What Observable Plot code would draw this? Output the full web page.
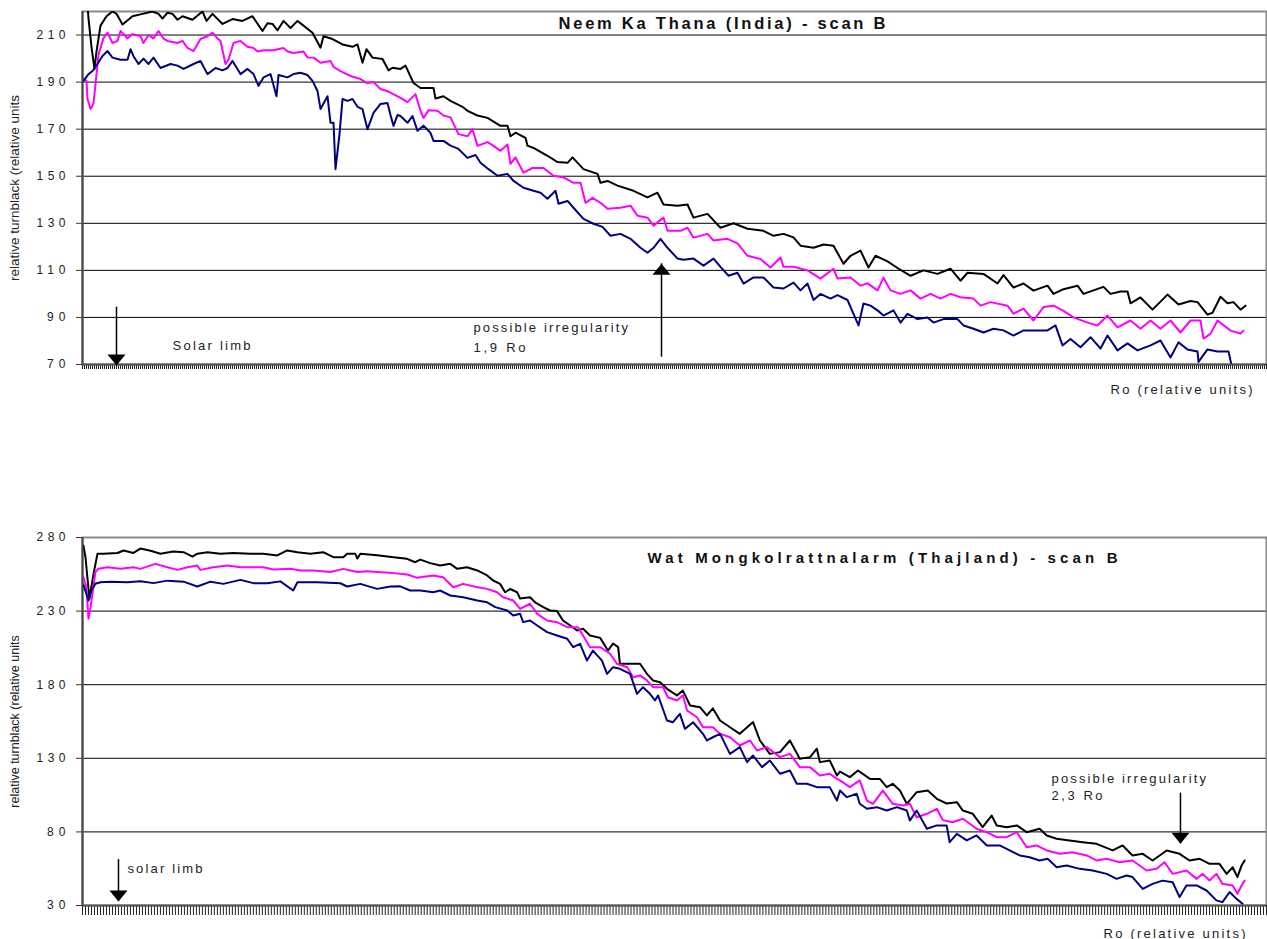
<!DOCTYPE html>
<html><head><meta charset="utf-8">
<script src="https://cdn.jsdelivr.net/npm/d3@7"></script>
<script src="https://cdn.jsdelivr.net/npm/@observablehq/plot@0.6"></script>
<style>
body{margin:0;background:#fff;}
#wrap{position:relative;width:1267px;height:939px;overflow:hidden;background:#fff;}
#top,#bottom{position:absolute;left:0;}
#top{top:0;}
#bottom{top:520px;}
</style></head>
<body><div id="wrap"><div id="top"></div><div id="bottom"></div></div>
<script>
// ---------- DATA: top panel (Neem Ka Thana) — [sample index, relative turnblack] ----------
const topTitle = "Neem Ka Thana (India) - scan B";
const topYTicks = [70, 90, 110, 130, 150, 170, 190, 210];
const topYDomain = [70, 220];
const topSamples = 592;
const topBlack = [[1,240],[3,217],[4.5,205],[6,195.5],[7,203],[9,214],[12,218],[15,220],[17,219],[20,214.5],[25,218],[30,219],[35,220],[38,219],[40,217],[42.5,219.5],[45,219],[47.5,216.5],[50,218],[55,216.5],[60,220],[62,216],[65,219],[70,214.7],[75,216.8],[80,216],[85,218],[90,211.7],[92.5,215],[95,214.7],[97.5,212],[100.5,216],[104,213],[107.5,216],[110.5,214],[115,211],[119,204.6],[120.5,209.5],[125,208.3],[130,206],[135,205],[137.5,206],[140,198.2],[142,204],[145,200.4],[150,199.8],[153,195],[155,196.1],[159,195.6],[161.5,197],[165.5,189.6],[169,187.5],[172.5,187.5],[175.5,187.5],[176.5,183],[180.5,184],[184,182],[190,179.5],[192.5,177.8],[197.5,175.8],[202.5,174.8],[209,171.4],[212.5,171.4],[214,167],[216.5,168.5],[221.5,166.3],[222.5,163],[225.5,162],[232.5,158.7],[237.5,156],[242.5,155.7],[245,158],[250.5,153],[257.5,151],[259,147.2],[262.5,148],[267.5,146],[275.5,143.8],[282.5,141],[287.5,143],[290.5,138],[297.5,137.5],[302.5,138],[305.5,132.4],[312.5,134],[319,128.1],[325.5,130],[332.5,127.7],[340.5,126.8],[345.5,124.7],[350.5,125.5],[355.5,124],[359,120.5],[365.5,119.6],[370.5,121],[375.5,120.5],[380.5,112.8],[384,116.2],[389,118.4],[393,111.2],[396.5,116.2],[402.5,113.8],[407.5,111],[414,107.7],[420.5,110],[427.5,108.5],[434,110.7],[439,105.6],[442.5,109],[450.5,108.5],[457.5,104.4],[460.5,108],[465.5,102.7],[470.5,104.4],[475.5,101.4],[482.5,103.5],[485.5,100],[490.5,102],[497.5,103.5],[500.5,100],[510.5,103],[514,100],[519,101],[522.5,101],[524,96],[529,98.5],[535,93.3],[542.5,99.7],[548,95.5],[554,97],[557.5,96.5],[562.5,91.2],[565,92],[569,98.8],[572.5,96],[575.5,96.5],[579,93.3],[581.5,95]];
const topMagenta = [[0.5,191.3],[2,190.5],[2.5,182.8],[4,178.6],[5.5,181],[6.5,189],[8,201.8],[10.5,208.7],[12.5,211],[15,206.6],[17.5,207.5],[19,211.7],[20.5,210.5],[22.5,208.5],[25,210.4],[29,209.5],[30.5,206.6],[33,210],[35.5,208.5],[38,211.7],[40.5,208.5],[42.5,207.5],[47.5,206.6],[50,207.5],[52.5,204.5],[55.5,203.2],[59,208.3],[62.5,209.5],[65,211],[67.5,208.5],[69,207.5],[71.5,197.7],[73,199.5],[75.5,206.6],[79,207.5],[82.5,205],[85.5,204.5],[87.5,203],[90.5,203.5],[95.5,203.5],[100.5,204.5],[102.5,203],[105.5,202.4],[110.5,203],[112.5,200.5],[115.5,200.4],[119,198.2],[124,199],[125.5,196.5],[129,194.7],[134,192.6],[139,191.3],[142.5,189.5],[145.5,190],[149,187.1],[153,186],[159,183.3],[162.5,181.5],[166.5,184.9],[169,177.8],[170.5,174.8],[173,178],[177.5,177.8],[180.5,175.8],[184,175],[188,167.9],[192.5,167],[195,170],[197.5,162.9],[202.5,164.5],[205.5,162.9],[209,160.8],[212.5,163.5],[214,155.3],[216.5,158],[220.5,151.5],[225,153.5],[230.5,153.5],[235.5,150.2],[240.5,149.5],[245.5,147.2],[249,147.2],[251.5,138.7],[255,140.8],[259,138.7],[262.5,136.2],[269,136.6],[274,137.5],[277.5,133.2],[282.5,132.4],[285.5,129],[290.5,132.4],[292.5,126.8],[299,126.8],[302.5,128.1],[305.5,123.9],[312.5,125.5],[315.5,122.7],[322.5,123.4],[327.5,121.5],[332.5,116.2],[339,114.8],[344,111.2],[349,115.5],[350.5,111.5],[355.5,111.5],[362.5,110],[369,106.5],[375.5,110.7],[377.5,106.5],[384,107],[389,103.5],[392.5,104.5],[397.5,101.5],[400.5,106.9],[404,101.5],[409,100],[414,101.5],[419,98],[424,100],[429,98],[434,100],[439,98.6],[445.5,98],[449,95],[454,96.5],[462.5,95],[465.5,91.6],[470.5,93.7],[475.5,88.7],[480.5,94.4],[485.5,95],[490.5,92.8],[495.5,90],[502.5,87.8],[507.5,86.6],[512.5,90.8],[517.5,85.8],[524,88.7],[529,85.2],[534,88.7],[539,85.2],[544,88.7],[549,83.6],[554,88.7],[559,88.7],[560.5,81],[564,83],[567.5,88.7],[574,84.4],[579,83.2],[580.5,84.4]];
const topBlue = [[0.5,190.5],[3,193.4],[5,194.7],[7.5,197.7],[10,201.1],[12.5,203.2],[15,200.4],[19,199.5],[22.5,199.5],[24,204],[25.5,201],[28,197.7],[30.5,200],[33,197.7],[35.5,200.4],[39,196],[44,197.7],[47.5,197],[50.5,195.6],[55.5,197.7],[59,199],[62.5,193.4],[66.5,196],[70,195],[72.5,196],[75,199],[79,193.4],[82.5,195.6],[85.5,193.4],[88,188.4],[90.5,192],[94,193.4],[97,184],[98,193],[102.5,192],[105.5,193.4],[109,194],[112.5,193],[115,190.5],[117.5,186.2],[119,178.6],[122.5,184],[124,172.7],[125.5,172.7],[126.5,153],[128.5,167.9],[130,182.8],[132.5,182],[135,182.8],[137.5,179.5],[140,178.5],[142.5,170],[145.5,176.9],[149,180.7],[152.5,181.1],[154,176],[155.5,171.4],[157.5,176],[159,175.6],[162.5,172.7],[165,175.6],[167.5,169.3],[170.5,171.5],[174,168.4],[175.5,165],[180.5,165],[184,163],[188,161.6],[192.5,157.8],[196.5,159],[199,155.7],[203,153],[207.5,150.2],[212.5,151],[215.5,148],[220.5,145.1],[225.5,143.8],[229,143],[232.5,140.4],[236.5,143.8],[238,138.3],[242.5,139.5],[245.5,136.6],[250.5,131.9],[255.5,129.8],[260,128.5],[264,124.7],[269,125.5],[274,123.4],[279,119.6],[282.5,117.5],[285.5,119.6],[289,123.4],[292.5,119.6],[297.5,115],[300.5,114.5],[305.5,115],[310.5,112],[315.5,115],[319,111.5],[323,107.7],[327.5,109],[330.5,104.4],[335.5,107],[340.5,107],[345.5,102.7],[350.5,102.3],[355.5,104.8],[359,101.5],[362.5,104.4],[365.5,97.4],[369,100],[374,98],[377.5,99.5],[382.5,97.4],[388,86.6],[390.5,95.9],[394,95],[397.5,93],[400.5,90.8],[405.5,93],[409,87.8],[412.5,91.5],[417.5,89.3],[422.5,90],[425.5,87.8],[430.5,89.3],[437.5,89.3],[440.5,86.6],[445.5,85.2],[450.5,83.6],[455.5,85.2],[460.5,84.5],[465.5,82.3],[470.5,84.5],[477.5,84.5],[482.5,84.5],[486.5,86.6],[490,78.1],[494,80.8],[499,77.3],[504,81.6],[509,76.8],[512.5,82.3],[517.5,76],[522.5,79],[527.5,76],[534,78.1],[539,80.2],[544,73],[548,79.4],[552.5,76.4],[557.5,75.5],[558,71.1],[562.5,76.4],[567.5,75.5],[573,75.5],[575.5,66]];
const topNotes = [
  {x: 45, y: 76, text: "Solar limb"},
  {x: 195.5, y: 84, text: "possible irregularity"},
  {x: 195.5, y: 75.5, text: "1,9 Ro"}
];
const topArrows = [
  {x: 17, from: 94.4, to: 69.6, dir: "down"},
  {x: 289.5, from: 73.1, to: 112.8, dir: "up"}
];

// ---------- DATA: bottom panel (Wat Mongkolrattnalarm) ----------
const botTitle = "Wat Mongkolrattnalarm (Thajland) - scan B";
const botYTicks = [30, 80, 130, 180, 230, 280];
const botYDomain = [30, 280];
const botSamples = 395;
const botBlack = [[0.3,274.6],[1,266.6],[2.3,238.5],[3.7,255.5],[5,269],[7,269],[11.7,269.5],[13.7,271.2],[17,269.5],[19.3,272.5],[22.7,271],[26,269],[30.3,270.5],[33.7,270],[36.7,267],[38.3,269],[41.7,270],[46,269],[50.3,269.5],[56,269],[60.3,269],[65,267.8],[68.3,271.2],[71.7,270],[76,269],[80.3,270],[83.7,266.6],[87,266.6],[88.3,269],[91,269],[91.7,265.7],[92.7,269],[98.3,268],[103.7,266.6],[108.3,265.5],[111,263.2],[112.7,265],[116,262.6],[119.3,261],[122.7,262.1],[125,258.7],[128.3,259.8],[131.7,257.6],[135,254.2],[137,250.8],[139.3,248.5],[141,242.8],[142.7,245],[145,242.8],[146,238.5],[149.3,239.4],[151,236],[153.7,232.7],[156,230.4],[158.3,230],[160.3,223.6],[162.7,220.2],[165,216.8],[167,218],[169.3,213.4],[172.7,211.8],[175.3,203.2],[177,208],[178.7,205.5],[179.3,194.2],[182.7,194.2],[186,194.2],[188.3,187.4],[190.3,182.9],[192.7,181.7],[195,177.2],[198.3,172.7],[200.3,176],[202.7,165.9],[206,164.7],[208.3,159.1],[210.3,163.9],[212.7,155.7],[216,151.1],[219.3,146.6],[223.7,154.6],[226,142.1],[229.3,133],[232.7,134.2],[236,142.1],[239.3,129.7],[242.7,130.8],[245,136.5],[246,127.4],[249.3,128.5],[251.7,118.3],[252.7,121],[256,117.2],[258.7,121.7],[262.7,116],[266,116],[268.3,110.4],[270.3,112.7],[272.7,108.1],[275,99.1],[278.3,107],[282,108.1],[285,102.5],[288.3,99.3],[291.7,100.2],[293.7,94.5],[297,92.3],[300.3,83.3],[303.3,91.1],[305,84.4],[308.3,83.2],[311.7,84.4],[315,79.8],[319.3,82.1],[321.7,77.6],[325,75.3],[329.3,74.2],[333.7,73],[338.3,71.9],[343.7,67.4],[347,70.8],[350.3,64],[353.7,65.1],[357,60.6],[361.7,67.4],[366,65.1],[369.3,60.6],[372.7,61.7],[376,58.3],[379.3,58.3],[381.7,51.5],[383.7,56],[385.3,49.3],[386.7,57.2],[387.7,60.6]];
const botMagenta = [[0.3,253],[1.3,246.2],[2,224.8],[2.7,232.7],[4.3,256.4],[5.3,258.8],[8.3,259.8],[12.7,258.7],[17,259.8],[19.3,258.7],[24.3,262.1],[28.3,259.8],[31.7,258],[35,259.8],[38.3,261],[39.3,258],[43.7,259.8],[48.3,261],[52.7,259.8],[60.3,259.8],[63.7,258.3],[69.3,258.7],[72.7,257.6],[77,257.6],[82.7,256.5],[87,258.7],[91.7,256.5],[95,257],[98.3,256.5],[103.7,255.8],[108.3,254.9],[111.7,252.6],[112.7,253],[117,254.2],[120.3,253],[123.7,246.2],[127,248.5],[131.7,246.2],[135,245.1],[138.3,242.8],[140.3,239.4],[143.7,237.2],[146,231.5],[149.3,235],[151.7,228.1],[155,223.6],[158.3,222.5],[161.7,219.1],[165.3,219.1],[167,213.4],[169.3,205.5],[172.7,205.5],[176,201],[178.3,194.2],[181.7,191.9],[183.7,185.1],[186,186.3],[188.3,182.9],[190.3,178.3],[193.7,178.3],[195.3,171.5],[198.3,169.3],[200.3,172.7],[201.7,162.5],[205,157.9],[207,151.1],[210.3,151.1],[212.7,146.6],[216,144.3],[219.3,138.7],[222.7,142.1],[225,135.3],[228.3,137.6],[232.7,130.8],[236,133],[239.3,124],[242.7,124],[246,118.3],[249.3,119.5],[251.7,116],[252.7,115],[256,110.4],[259.3,115],[261.7,101.3],[263.7,99.1],[267,108.1],[270.3,99.1],[273.7,98],[276,99.1],[278.3,90],[281.7,92.3],[285,95.7],[287,88],[290.3,86.6],[293.7,88.9],[298.3,82.1],[301.7,79.8],[305,76.4],[308.3,76.4],[311.7,79.8],[315,69.6],[318.3,70.8],[321.7,67.4],[326,65.1],[330.3,66.2],[335,64],[338.3,60.6],[341.7,61.7],[346,59.4],[350.3,60.6],[355,53.8],[358.3,54.9],[361,59.4],[363.7,51.5],[368.3,53.8],[371.7,48.1],[373.7,51.5],[376,47],[378.3,51.5],[380.3,44.7],[383.7,43.6],[385.3,38],[386.7,43.6],[387.7,46.9]];
const botBlue = [[0.3,248],[2,237.2],[3,244],[4.3,248.6],[6,249.6],[9.3,250],[15,249.6],[19.3,250.3],[23.7,249],[28.3,250.7],[33.7,250],[38.3,246.7],[42.7,250],[47,248.5],[52.7,251.2],[57,249],[61.7,248.9],[66,250.2],[70.3,244],[71.7,249.6],[78.3,249.6],[86,248.9],[88.3,246.7],[92.7,248.5],[98.3,245.1],[102.7,246.7],[106,246.8],[109.3,244],[112.7,244],[117,242.8],[119.3,244],[122.7,240.6],[127,239.4],[131.7,237.2],[135,236],[137.7,232.7],[141.7,230.4],[143.7,227],[146,228.2],[147,222.5],[149.3,223.6],[151.7,220.2],[155,215.7],[158.3,213.4],[161.7,211.2],[163.7,205.5],[166,207.8],[168.3,196.4],[170.3,203.2],[173.3,196.4],[175,187.4],[177,191.9],[179.3,190.8],[182.7,187.4],[185,173.8],[187,178.3],[189.3,173.8],[191,169.3],[192,172.7],[195,155.7],[197,154.5],[199.3,160.2],[201,150],[203.7,154.5],[207,146.6],[208.3,142.1],[210.3,144.3],[212.7,146.6],[216,133],[219.3,137.6],[221.7,127.4],[223.7,131.9],[226.7,124],[229.3,128.5],[232.7,119.5],[236,121.7],[238.3,112.7],[241.7,112.7],[245,110.4],[249.3,110.4],[251.7,101.3],[252.7,108.1],[255,103.6],[258.3,105.9],[259.3,99.1],[261.7,95.7],[265,96.8],[268.3,94.5],[271.7,96.8],[275,94.5],[276,87.7],[278.3,94.5],[281.7,82.1],[285,84.4],[288.3,84.4],[289.3,73],[291.7,78.7],[295,74.2],[298.3,77.6],[301.7,70.8],[306,70.8],[309.3,67.4],[312.7,64],[316,62.8],[319.3,60.6],[322,61.7],[325,56],[328.3,57.2],[332.7,54.9],[337,53.8],[341.7,51.5],[345,48.1],[348.3,50.4],[350.3,49.3],[353.7,41.3],[357,44.7],[360.3,46.9],[363.7,45.8],[366,35.7],[368.3,43.6],[371.7,43.6],[375,40.2],[378.3,33.5],[380.3,32.3],[382.7,39.2],[385,34.5],[387,31.2]];
const botNotes = [
  {x: 15, y: 52.4, text: "solar limb"},
  {x: 323.3, y: 113.1, text: "possible irregularity"},
  {x: 323.3, y: 101.8, text: "2,3 Ro"}
];
const botArrows = [
  {x: 12, from: 61.2, to: 32.7, dir: "down"},
  {x: 366.3, from: 106.3, to: 71.9, dir: "down"}
];

const yLabel = "relative turnblack (relative units";
const xLabel = "Ro (relative units)";
const seriesColors = ["#000000", "#ff00ff", "#000080"];

// ---------- drawing ----------
const FONT = "'Liberation Sans', Arial, Helvetica, sans-serif";
// widths (px) used to stretch the letter-spaced texts as in the original
const textFit = new Map([
  [topTitle, 327], [botTitle, 470],
  ["Solar limb", 78], ["solar limb", 75],
  ["possible irregularity", 154.5], ["1,9 Ro", 52], ["2,3 Ro", 51],
  [xLabel, 142]
]);
const triDown = {draw(c){ c.moveTo(-9,-11); c.lineTo(9,-11); c.lineTo(0,0); c.closePath(); }};
const triUp = {draw(c){ c.moveTo(-9,11); c.lineTo(9,11); c.lineTo(0,0); c.closePath(); }};

function panel(cfg) {
  const series = [cfg.black, cfg.magenta, cfg.blue];
  const svg = Plot.plot({
    width: 1267, height: cfg.height,
    marginLeft: 82, marginRight: 1, marginTop: cfg.marginTop, marginBottom: cfg.marginBottom,
    x: {domain: [0, cfg.samples], axis: null},
    y: {domain: cfg.yDomain, axis: null},
    style: {fontFamily: FONT, background: "#fff", color: "#222", overflow: "visible"},
    marks: [
      Plot.gridY(cfg.yTicks, {stroke: "#000", strokeOpacity: 1, strokeWidth: 1}),
      Plot.frame({stroke: "#8a8a8a", strokeWidth: 2}),
      ...series.map((s, i) => Plot.line(s, {x: d => d[0], y: d => d[1], stroke: seriesColors[i], strokeWidth: 2, clip: true})),
      Plot.axisY(cfg.yTicks, {tickSize: 6, tickPadding: 11, fontSize: 12, label: null, stroke: "#333"}),
      Plot.axisX(d3.range(0, cfg.samples + 1), {tickSize: cfg.xTickSize, tickFormat: () => "", label: null, stroke: "#222", strokeWidth: 1}),
      Plot.ruleX([0], {stroke: "#444", strokeWidth: 2}),
      Plot.ruleY([cfg.yDomain[0]], {stroke: "#555", strokeWidth: 2}),
      Plot.text([cfg.title], {frameAnchor: "top-left", dx: cfg.titleDx, dy: cfg.titleDy, textAnchor: "start", lineAnchor: "bottom", fontWeight: "bold", fontSize: cfg.titleSize, fill: "#111"}),
      Plot.text([yLabel], {frameAnchor: "left", dx: -68, rotate: -90, textAnchor: "middle", lineAnchor: "middle", fontSize: cfg.yLabelSize, fill: "#222"}),
      Plot.text([xLabel], {frameAnchor: "bottom-right", dx: cfg.xLabelDx, dy: cfg.xLabelDy, textAnchor: "end", lineAnchor: "bottom", fontSize: 13, fill: "#222"}),
      Plot.text(cfg.notes, {x: "x", y: "y", text: "text", textAnchor: "start", lineAnchor: "bottom", fontSize: 13, fill: "#222"}),
      Plot.ruleX(cfg.arrows, {x: "x", y1: "from", y2: "to", stroke: "#000", strokeWidth: 1.5}),
      Plot.dot(cfg.arrows.filter(a => a.dir === "down"), {x: "x", y: "to", symbol: triDown, fill: "#000", stroke: null}),
      Plot.dot(cfg.arrows.filter(a => a.dir === "up"), {x: "x", y: "to", symbol: triUp, fill: "#000", stroke: null})
    ]
  });
  d3.select(svg).selectAll("text").each(function() {
    const t = this.textContent;
    let w = null;
    if (textFit.has(t)) w = textFit.get(t);
    else if (/^\d+$/.test(t)) w = t.length === 3 ? 29 : 18.5;
    if (w != null) {
      this.setAttribute("textLength", w);
      this.setAttribute("lengthAdjust", "spacing");
    }
  });
  return svg;
}

document.getElementById("top").appendChild(panel({
  black: topBlack, magenta: topMagenta, blue: topBlue,
  samples: topSamples, yDomain: topYDomain, yTicks: topYTicks,
  height: 400, marginTop: 11, marginBottom: 36, xTickSize: 5, xLabelDx: -14, xLabelDy: 29,
  title: topTitle, titleDx: 476, titleDy: 17, titleSize: 16.5,
  yLabelSize: 13.5, notes: topNotes, arrows: topArrows
}));
document.getElementById("bottom").appendChild(panel({
  black: botBlack, magenta: botMagenta, blue: botBlue,
  samples: botSamples, yDomain: botYDomain, yTicks: botYTicks,
  height: 419, marginTop: 17, marginBottom: 34, xTickSize: 10, xLabelDx: -21, xLabelDy: 32,
  title: botTitle, titleDx: 565, titleDy: 25, titleSize: 15,
  yLabelSize: 12.5, notes: botNotes, arrows: botArrows
}));
</script>
</body></html>
